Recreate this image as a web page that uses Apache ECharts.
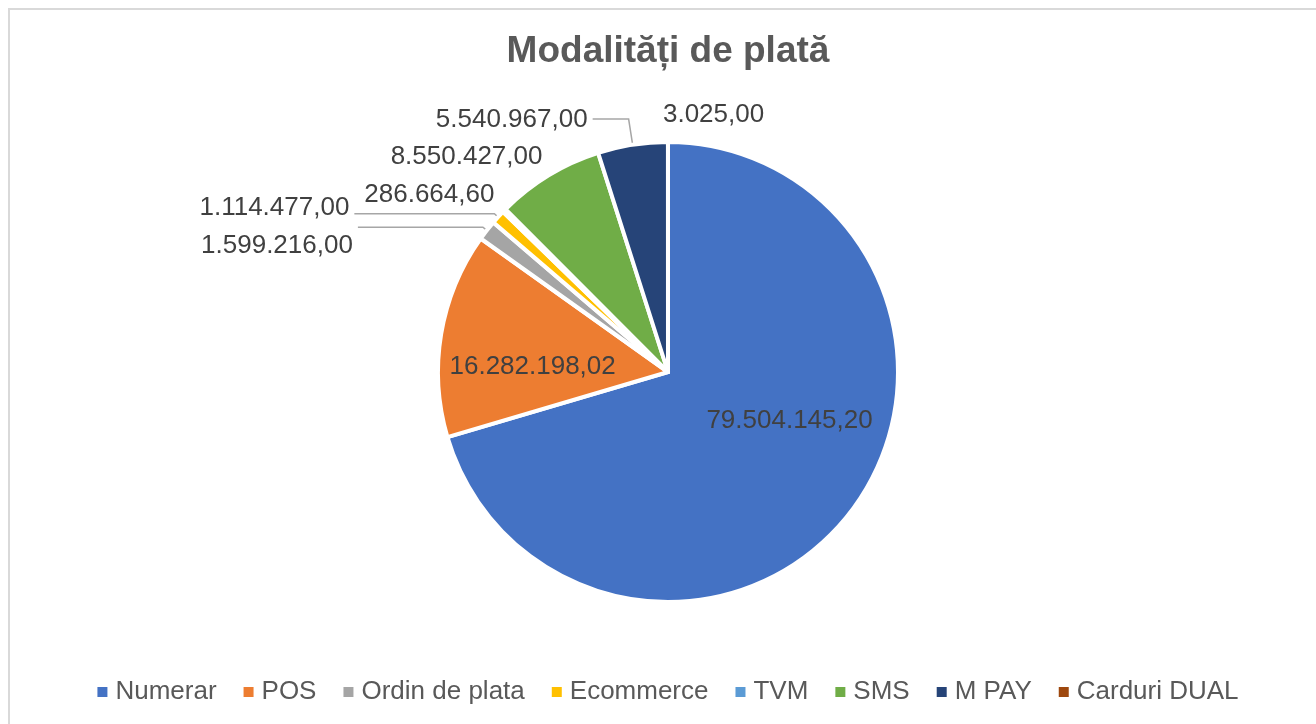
<!DOCTYPE html>
<html>
<head>
<meta charset="utf-8">
<script src="https://cdn.jsdelivr.net/npm/echarts@6/dist/echarts.min.js"></script>
<style>
  html, body { margin: 0; padding: 0; background: #fff; overflow: hidden; }
  .frame {
    position: absolute; left: 8px; top: 8px;
    width: 1330px; height: 730px;
    border-left: 2px solid #d9d9d9; border-top: 2px solid #d9d9d9;
  }
  .chartContainer { width: 1316px; height: 714px; }
</style>
</head>
<body>
<div class="frame"><div id="chart" class="chartContainer"></div></div>
<script>
const title = "Modalități de plată";
const categories = ["Numerar", "POS", "Ordin de plata", "Ecommerce", "TVM", "SMS", "M PAY", "Carduri DUAL"];
const values = [79504145.20, 16282198.02, 1599216.00, 1114477.00, 286664.60, 8550427.00, 5540967.00, 3025.00];
const colors = ["#4472C4", "#ED7D31", "#A5A5A5", "#FFC000", "#5B9BD5", "#70AD47", "#264478", "#9E480E"];

// formatare ro: 79.504.145,20
const fmt = (v) => {
  const [int, dec] = v.toFixed(2).split(".");
  return int.replace(/\B(?=(\d{3})+(?!\d))/g, ".") + "," + dec;
};

// pozitionare etichete (stil, nu date)
const labelCfg = [
  { position: "inner", line: false, nudge: [27, -22] },
  { position: "inner", line: false, nudge: [-19, 14] },
  { position: "outside", line: true, length: 5, length2: 125, nudge: [0, 19] },
  { position: "outside", line: true, length: 5, length2: 140, nudge: [0, -6] },
  { position: "outside", line: false, length: 25, length2: 0, nudge: [13, 2] },
  { position: "outside", line: false, length: 25, length2: 0, nudge: [12, 3] },
  { position: "outside", line: true, length: 26, length2: 36, nudge: [0, 1] },
  { position: "outside", line: false, length: 30, length2: 0, nudge: [0, 3], align: "left" },
];

const font = "'Liberation Sans', Arial, sans-serif";

const chart = echarts.init(document.getElementById("chart"));
const option = {
  color: colors,
  animation: false,
  title: {
    text: title,
    left: "center",
    top: 18,
    textStyle: { fontFamily: font, fontSize: 37, fontWeight: "bold", color: "#595959" },
  },
  legend: {
    data: categories,
    left: "center",
    top: 664,
    icon: "rect",
    itemWidth: 10,
    itemHeight: 10,
    itemGap: 27,
    itemStyle: { borderWidth: 0 },
    textStyle: { fontFamily: font, fontSize: 26, color: "#595959", padding: [0, 0, 0, 3] },
  },
  series: [
    {
      type: "pie",
      center: ["50%", 362],
      radius: 230,
      startAngle: 90,
      clockwise: true,
      avoidLabelOverlap: false,
      emphasis: { scale: false },
      itemStyle: { borderColor: "#fff", borderWidth: 4 },
      label: {
        fontFamily: font,
        fontSize: 26,
        color: "#404040",
        formatter: (p) => fmt(p.value),
      },
      labelLine: { lineStyle: { color: "#A6A6A6", width: 1.5 } },
      labelLayout: (params) => {
        const c = labelCfg[params.dataIndex];
        const out = { dx: c.nudge[0], dy: c.nudge[1] };
        if (c.align) out.align = c.align;
        return out;
      },
      data: categories.map((name, i) => ({
        name,
        value: values[i],
        label: { position: labelCfg[i].position },
        labelLine: {
          show: labelCfg[i].line,
          length: labelCfg[i].length || 0,
          length2: labelCfg[i].length2 || 0,
        },
      })),
    },
  ],
};
chart.setOption(option);
window.addEventListener("resize", () => chart.resize());
</script>
</body>
</html>
